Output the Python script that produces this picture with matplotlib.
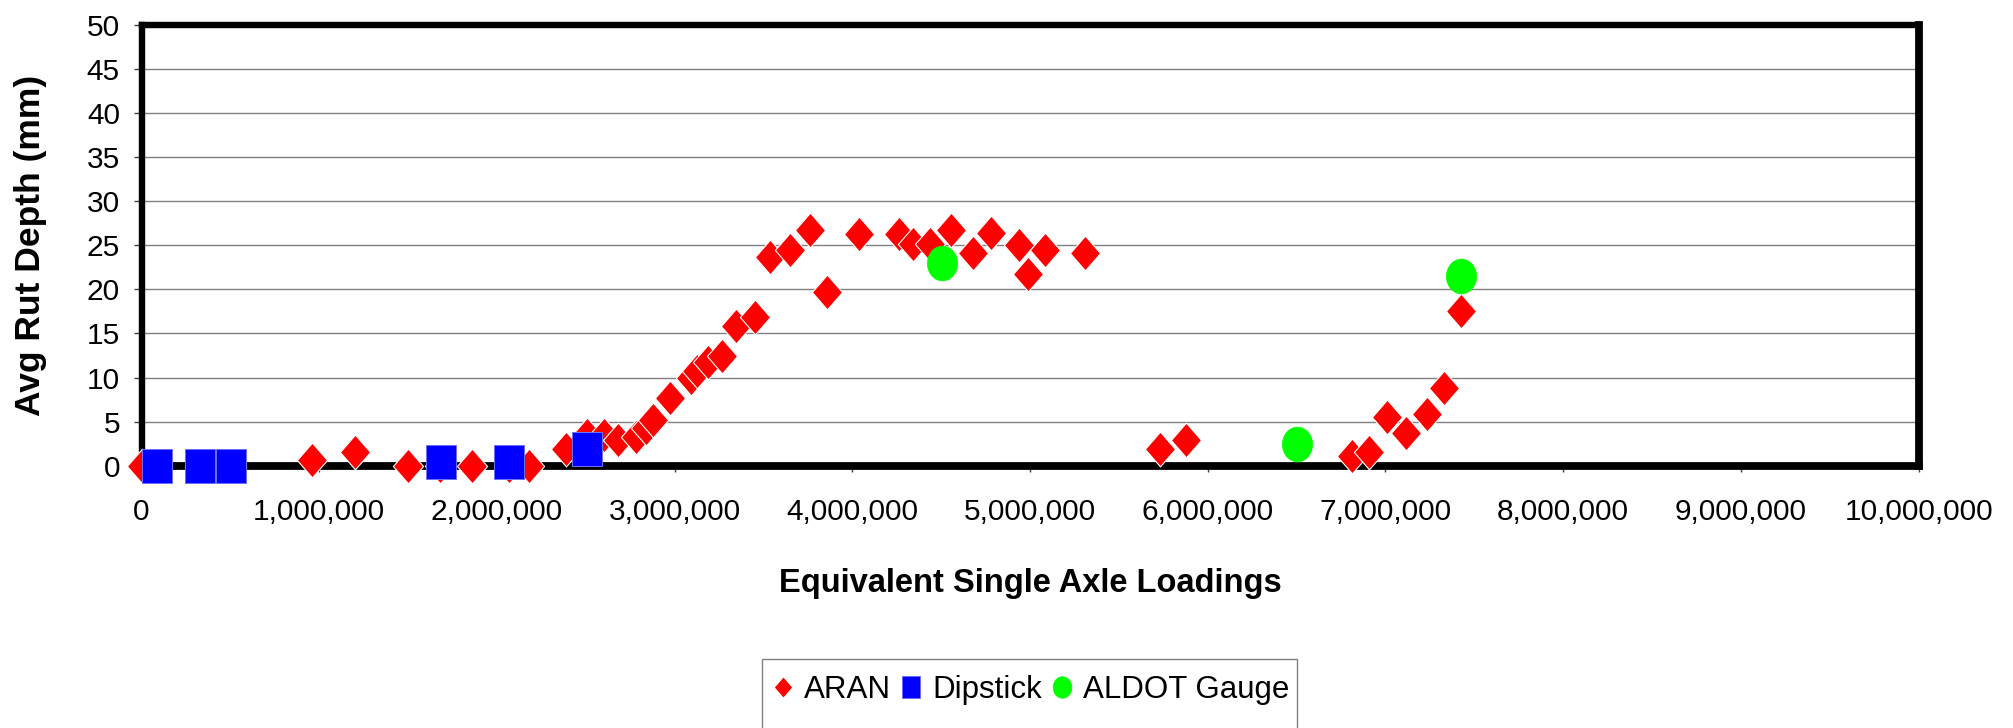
import matplotlib
matplotlib.use("Agg")
import matplotlib.pyplot as plt
from matplotlib.path import Path
from matplotlib.ticker import FuncFormatter, MultipleLocator
from matplotlib.patches import Rectangle
from matplotlib import font_manager
import numpy as np

plt.rcParams['font.family'] = ['Liberation Sans', 'DejaVu Sans']
_names = {f.name for f in font_manager.fontManager.ttflist}
NARROW = 'Liberation Sans Narrow' in _names
tick_family = ['Liberation Sans Narrow', 'Liberation Sans'] if NARROW else ['Liberation Sans']
tick_size = 25.5 if NARROW else 21.5
leg_size = 26.5 if NARROW else 22.5

# ---- data (ESALs, rut depth mm) ----
aran_esal = [0, 958000, 1200000, 1500000, 1680000, 1860000, 2070000, 2180000,
             2390000, 2505000, 2600000, 2680000, 2780000, 2840000, 2880000,
             2975000, 3090000, 3125000, 3190000, 3265000, 3345000, 3455000,
             3537000, 3650000, 3762000, 3860000, 4040000, 4263000, 4343000,
             4437000, 4554000, 4680000, 4779000, 4940000, 4990000, 5085000,
             5310000, 5730000, 5876000, 6810000, 6908000, 7007000, 7116000,
             7232000, 7330000, 7425000]
aran_rut = [0.0, 0.7, 1.5, 0.0, 0.0, 0.0, 0.0, 0.0,
            1.9, 3.5, 3.5, 2.9, 3.3, 4.3, 5.2,
            7.7, 9.9, 10.7, 11.8, 12.4, 15.8, 16.9,
            23.7, 24.5, 26.7, 19.75, 26.3, 26.3, 25.2,
            25.2, 26.75, 24.1, 26.4, 25.05, 21.8, 24.5,
            24.1, 1.9, 2.9, 1.1, 1.6, 5.5, 3.7,
            5.9, 8.8, 17.6]

dip_esal = [86000, 330000, 505000, 1684000, 2070000, 2505000]
dip_rut = [0.0, 0.0, 0.0, 0.4, 0.4, 1.9]

aldot_esal = [4507000, 6504000, 7425000]
aldot_rut = [23.0, 2.5, 21.5]

series_names = ["ARAN", "Dipstick", "ALDOT Gauge"]
x_label = "Equivalent Single Axle Loadings"
y_label = "Avg Rut Depth (mm)"

# ---- marker shapes (slightly taller than wide, as in the reference) ----
ax_ratio = 0.87
diamond = Path([(0, 0.5), (0.5 * ax_ratio, 0), (0, -0.5), (-0.5 * ax_ratio, 0), (0, 0.5)],
               [Path.MOVETO, Path.LINETO, Path.LINETO, Path.LINETO, Path.CLOSEPOLY])
square = Path([(-0.5 * ax_ratio, -0.5), (0.5 * ax_ratio, -0.5), (0.5 * ax_ratio, 0.5),
               (-0.5 * ax_ratio, 0.5), (-0.5 * ax_ratio, -0.5)],
              [Path.MOVETO, Path.LINETO, Path.LINETO, Path.LINETO, Path.CLOSEPOLY])
uc = Path.unit_circle()
ellipse = Path(uc.vertices * np.array([0.5 * ax_ratio, 0.5]), uc.codes)

fig = plt.figure(figsize=(20.13, 7.28), dpi=100)
ax = fig.add_axes([0.0703, 0.3603, 0.8828, 0.6054])

ms = 25
ax.plot(aran_esal, aran_rut, linestyle='none', marker=diamond, ms=ms,
        color='#FF0000', markeredgecolor='white', markeredgewidth=0.8,
        clip_on=False, zorder=4, label=series_names[0])
ax.plot(dip_esal, dip_rut, linestyle='none', marker=square, ms=ms,
        color='#0000FF', markeredgecolor='#7070FF', markeredgewidth=0.7,
        clip_on=False, zorder=5, label=series_names[1])
ax.plot(aldot_esal, aldot_rut, linestyle='none', marker=ellipse, ms=ms,
        color='#00FF00', markeredgecolor='#00FF00', markeredgewidth=0.5,
        clip_on=False, zorder=6, label=series_names[2])

ax.set_xlim(0, 10_000_000)
ax.set_ylim(0, 50)
ax.xaxis.set_major_locator(MultipleLocator(1_000_000))
ax.yaxis.set_major_locator(MultipleLocator(5))
ax.xaxis.set_major_formatter(FuncFormatter(lambda v, p: f"{int(round(v)):,}"))
ax.yaxis.set_major_formatter(FuncFormatter(lambda v, p: f"{int(round(v))}"))

ax.grid(axis='y', color='#808080', linewidth=1.0, zorder=1)
ax.set_axisbelow(True)

for side in ['left', 'top']:
    ax.spines[side].set_linewidth(4.6)
for side in ['right', 'bottom']:
    ax.spines[side].set_linewidth(5.6)
for s in ax.spines.values():
    s.set_color('black')
    s.set_zorder(3)

ax.tick_params(axis='x', direction='out', length=4.5, width=1.0, color='#404040',
               labelsize=tick_size, pad=19)
ax.tick_params(axis='y', direction='out', length=5.5, width=1.0, color='#404040',
               labelsize=tick_size, pad=10)
for lab in ax.get_xticklabels() + ax.get_yticklabels():
    lab.set_family(tick_family)

ax.set_xlabel(x_label, fontsize=23.5, fontweight='bold')
ax.xaxis.label.set_va('center')
ax.xaxis.set_label_coords(0.5, -0.268)
ax.set_ylabel(y_label, fontsize=25.5, fontweight='bold')
ax.yaxis.label.set_va('center')
ax.yaxis.set_label_coords(-0.0625, 0.5)

# legend
leg = fig.legend(loc='center left', bbox_to_anchor=(772 / 2013, 1 - 690 / 728),
                 ncol=3, frameon=False, markerscale=0.62,
                 prop={'family': tick_family, 'size': leg_size},
                 handlelength=0.7, handletextpad=0.33, columnspacing=0.29,
                 borderpad=0, borderaxespad=0)
fig.add_artist(Rectangle((762 / 2013, -0.05), (1297 - 762) / 2013, 0.05 + (1 - 659 / 728),
                         transform=fig.transFigure, fill=False,
                         edgecolor='#808080', linewidth=1.0))

fig.savefig("out.png", dpi=100)
